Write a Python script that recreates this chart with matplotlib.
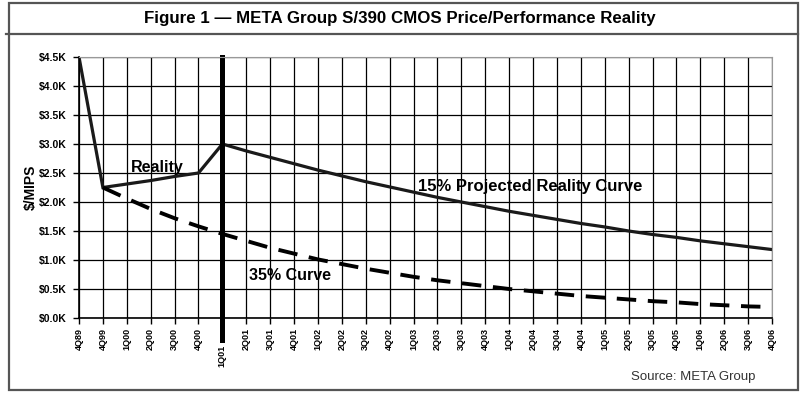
import matplotlib
matplotlib.use("Agg")
import matplotlib.pyplot as plt
from matplotlib.lines import Line2D
from matplotlib.patches import Rectangle

plt.rcParams["font.family"] = ["Liberation Sans", "DejaVu Sans"]

quarters = [
    "4Q89", "4Q99", "1Q00", "2Q00", "3Q00", "4Q00", "1Q01", "2Q01", "3Q01", "4Q01",
    "1Q02", "2Q02", "3Q02", "4Q02", "1Q03", "2Q03", "3Q03", "4Q03", "1Q04", "2Q04",
    "3Q04", "4Q04", "1Q05", "2Q05", "3Q05", "4Q05", "1Q06", "2Q06", "3Q06", "4Q06",
]

# $K per MIPS
reality = [4.50, 2.25, 2.31, 2.37, 2.44, 2.50, 3.00]  # 4Q89 .. 1Q01
projected_15 = [3.00, 2.88, 2.77, 2.66, 2.55, 2.45, 2.35, 2.26, 2.17, 2.08, 2.00, 1.92,
                1.84, 1.77, 1.70, 1.63, 1.57, 1.50, 1.44, 1.39, 1.33, 1.28, 1.23, 1.18]  # 1Q01 .. 4Q06
curve_35 = [2.25, 2.06, 1.88, 1.72, 1.58, 1.45, 1.33, 1.21, 1.11, 1.01, 0.93, 0.85, 0.78,
            0.71, 0.65, 0.60, 0.55, 0.50, 0.46, 0.42, 0.38, 0.35, 0.32, 0.29, 0.27, 0.24,
            0.22, 0.20, 0.19]  # 4Q99 .. 4Q06

y_ticks = [0, 0.5, 1.0, 1.5, 2.0, 2.5, 3.0, 3.5, 4.0, 4.5]
y_labels = ["$0.0K", "$0.5K", "$1.0K", "$1.5K", "$2.0K", "$2.5K", "$3.0K", "$3.5K", "$4.0K", "$4.5K"]

W, H = 800, 407
fig = plt.figure(figsize=(W / 100, H / 100), dpi=100)


def fx(px):
    return px / W


def fy(py):
    return 1 - py / H


# outer frame and title band
fig.add_artist(Rectangle((fx(9), fy(390)), fx(798) - fx(9), fy(3) - fy(390),
                         transform=fig.transFigure, fill=False, edgecolor="#555555", lw=1.6))
fig.add_artist(Line2D([fx(6), fx(798)], [fy(34), fy(34)], transform=fig.transFigure,
                      color="#555555", lw=1.6))
fig.text(0.5, fy(18), "Figure 1 \u2014 META Group S/390 CMOS Price/Performance Reality",
         ha="center", va="center", fontsize=12.2, fontweight="bold")
fig.text(fx(755), fy(377), "Source: META Group", ha="right", va="center", fontsize=9.5,
         color="#333333")

ax = fig.add_axes([fx(79), fy(318), fx(772) - fx(79), (318 - 57) / H])
x = list(range(len(quarters)))

ax.set_xlim(0, len(quarters) - 1)
ax.set_ylim(0, 4.5)
ax.set_xticks(x)
ax.set_xticklabels(quarters, rotation=90, fontsize=6.5, fontweight="bold", va="top")
ax.set_yticks(y_ticks)
ax.set_yticklabels(y_labels, fontsize=7.5, fontweight="bold")
ax.tick_params(axis="x", length=4, width=1, pad=3)
ax.tick_params(axis="y", length=4, width=1, pad=5)
for t in ax.get_xticklabels():
    if t.get_text() == "1Q01":
        t.set_y(-0.065)
ax.grid(True, color="black", lw=0.9)
ax.set_axisbelow(True)
for side in ["top", "right"]:
    ax.spines[side].set_color("#999999")
for side in ["left", "bottom"]:
    ax.spines[side].set_linewidth(1.2)
ax.set_ylabel("$/MIPS", fontsize=10, fontweight="bold", labelpad=1)

ax.plot(x[:len(reality)], reality, color="#1a1a1a", lw=2.3, solid_joinstyle="miter")
ax.plot(x[6:], projected_15, color="#1a1a1a", lw=2.3)
ax.plot(x[1:], curve_35, color="black", lw=2.8, linestyle=(0, (5, 3)))
ax.axvline(6, ymin=-0.085, ymax=1, color="black", lw=3.6, clip_on=False)

ax.text(2.15, 2.6, "Reality", fontsize=11.5, fontweight="bold", va="center")
ax.text(7.1, 0.74, "35% Curve", fontsize=11.5, fontweight="bold", va="center")
ax.text(14.2, 2.26, "15% Projected Reality Curve", fontsize=12, fontweight="bold",
        va="center")

fig.savefig("out.png", dpi=100)
